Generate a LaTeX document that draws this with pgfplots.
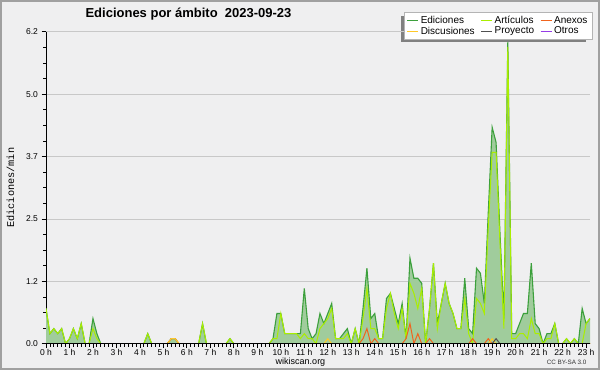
\documentclass[border=0pt]{standalone}
\usepackage{fontspec}
\setmainfont{Liberation Sans}
\newfontfamily\monofont{Liberation Mono}
\usepackage{pgfplots}
\pgfplotsset{compat=1.18}
\usepackage{pgfplotstable}

\definecolor{bg}{RGB}{239,239,240}
\definecolor{frame}{RGB}{160,160,160}
\definecolor{efill}{RGB}{160,204,156}
\definecolor{eline}{RGB}{60,160,60}
\definecolor{aline}{RGB}{170,238,0}
\definecolor{xline}{RGB}{240,100,30}
\definecolor{dline}{RGB}{255,200,40}
\definecolor{pline}{RGB}{80,80,80}
\definecolor{oline}{RGB}{150,60,230}
\definecolor{gridc}{RGB}{200,200,200}
\definecolor{shadowc}{RGB}{128,128,128}
\definecolor{legborder}{RGB}{180,180,180}

% min = minutes after midnight; values = edits per minute
\pgfplotstableread{
min E A X D P O
0 0.7 0.7 0 0 0 0
10 0.2 0.2 0 0 0 0
20 0.3 0.3 0 0 0 0
30 0.2 0.2 0 0 0 0
40 0.3 0.3 0 0 0 0
50 0 0 0 0 0 0
60 0.1 0.1 0 0 0 0
70 0.3 0.3 0 0 0 0
80 0.1 0.1 0 0 0 0
90 0.4 0.4 0 0 0 0
100 0 0 0 0 0 0
110 0 0 0 0 0 0
120 0.5 0.3 0 0 0 0
130 0.2 0.1 0 0 0 0
140 0 0 0 0 0 0
150 0 0 0 0 0 0
160 0 0 0 0 0 0
170 0 0 0 0 0 0
180 0 0 0 0 0 0
190 0 0 0 0 0 0
200 0 0 0 0 0 0
210 0 0 0 0 0 0
220 0 0 0 0 0 0
230 0 0 0 0 0 0
240 0 0 0 0 0 0
250 0 0 0 0 0 0
260 0.2 0.2 0 0 0 0
270 0 0 0 0 0 0
280 0 0 0 0 0 0
290 0 0 0 0 0 0
300 0 0 0 0 0 0
310 0 0 0 0 0 0
320 0.1 0 0.1 0.1 0 0
330 0.1 0 0.1 0.1 0 0
340 0 0 0 0 0 0
350 0 0 0 0 0 0
360 0 0 0 0 0 0
370 0 0 0 0 0 0
380 0 0 0 0 0 0
390 0 0 0 0 0 0
400 0.4 0.4 0 0 0 0
410 0 0 0 0 0 0
420 0 0 0 0 0 0
430 0 0 0 0 0 0
440 0 0 0 0 0 0
450 0 0 0 0 0 0
460 0 0 0 0 0 0
470 0.1 0.1 0 0 0 0
480 0 0 0 0 0 0
490 0 0 0 0 0 0
500 0 0 0 0 0 0
510 0 0 0 0 0 0
520 0 0 0 0 0 0
530 0 0 0 0 0 0
540 0 0 0 0 0 0
550 0 0 0 0 0 0
560 0 0 0 0 0 0
570 0 0 0 0 0 0
580 0.1 0.1 0 0 0 0
590 0.6 0.1 0 0 0 0
600 0.6 0.6 0 0 0 0
610 0.2 0.2 0 0 0 0
620 0.2 0.2 0 0 0 0
630 0.2 0.2 0 0 0 0
640 0.2 0.2 0 0 0 0
650 0.2 0.1 0 0 0 0
660 1.1 0.2 0 0 0 0
670 0.3 0.1 0 0 0 0
680 0.1 0.1 0 0 0 0
690 0.2 0 0 0 0 0
700 0.6 0.3 0 0 0 0
710 0.4 0.4 0 0 0 0
720 0.6 0.5 0 0.1 0 0
730 0.8 0.7 0 0 0 0
740 0.1 0.1 0 0 0 0
750 0.1 0.1 0 0 0 0
760 0.2 0.1 0 0 0 0
770 0.3 0.2 0 0 0 0
780 0 0 0 0 0 0
790 0.3 0.3 0 0 0 0
800 0 0 0 0 0 0
810 0.7 0.5 0.1 0 0 0
820 1.5 1.1 0.3 0 0 0
830 0.5 0.3 0 0 0 0
840 0.6 0.3 0.1 0 0 0
850 0.1 0.1 0 0 0 0
860 0.1 0.1 0 0 0 0
870 0.9 0.7 0 0 0 0
880 1.0 1.0 0 0 0 0
890 0.7 0.6 0 0 0 0
900 0.4 0.3 0 0 0 0
910 0.8 0.7 0 0 0 0
920 0.1 0.1 0.1 0 0 0
930 1.7 1.2 0.4 0 0 0
940 1.3 1.0 0 0 0 0
950 1.3 0.7 0.2 0 0 0
960 1.2 1.1 0 0 0 0
970 0 0 0 0 0 0
980 0.7 0.7 0.1 0 0 0
990 1.6 1.6 0 0 0 0
1000 0.4 0.3 0 0 0 0
1010 0.8 0.8 0 0 0 0
1020 1.2 1.2 0 0 0 0
1030 0.8 0.8 0 0 0 0
1040 0.6 0.6 0 0 0 0
1050 0.3 0.3 0 0 0 0
1060 0.3 0.3 0 0 0 0
1070 1.3 0.9 0 0 0 0
1080 0.3 0.2 0 0 0 0
1090 0.2 0 0.1 0 0 0
1100 1.5 0.9 0 0 0 0
1110 1.4 0.8 0 0 0 0
1120 0.8 0.6 0 0 0 0
1130 2.6 2.3 0.1 0 0 0
1140 4.3 3.8 0 0.1 0 0
1150 4.0 3.8 0 0 0.1 0
1160 2.2 2.0 0 0 0 0
1170 0.5 0.3 0 0 0 0
1180 6.0 5.9 0 0 0 0
1190 0.2 0.1 0 0 0 0
1200 0.2 0.1 0 0 0 0
1210 0.4 0.2 0 0 0 0
1220 0.6 0.2 0 0 0 0
1230 0.6 0.1 0 0 0 0
1240 1.6 0.5 0 0 0 0
1250 0.4 0.2 0 0 0 0
1260 0.3 0.2 0 0 0 0
1270 0 0 0 0 0 0
1280 0.2 0.1 0 0 0 0
1290 0.2 0.1 0 0 0 0
1300 0.4 0.4 0 0 0 0
1310 0 0 0 0 0 0
1320 0 0 0 0 0 0
1330 0.1 0.1 0 0 0 0
1340 0 0 0 0 0 0
1350 0.1 0.1 0 0 0 0
1360 0 0 0 0 0 0
1370 0.7 0 0 0 0 0
1380 0.4 0.4 0 0 0 0
1390 0.5 0.5 0 0 0 0
}\data

\begin{document}
\begin{tikzpicture}[x=1pt,y=1pt]
\useasboundingbox (0,0) rectangle (600,370);
\fill[bg] (0,0) rectangle (600,370);
\draw[frame,line width=2pt] (1,1) rectangle (599,369);
% legend shadow (the legend box is drawn over it)
\fill[shadowc] (400.7,327.6) rectangle (586,354.4);

\node[font=\bfseries\fontsize{13}{13}\selectfont] at (188.5,355.5) {Ediciones por ámbito\ \ 2023-09-23};
\node[font=\fontsize{9}{9}\selectfont,anchor=base] at (300.5,6) {wikiscan.org};
\node[font=\fontsize{6.3}{6.3}\selectfont,anchor=base east,text=black!80] at (590,6) {CC BY-SA 3.0};

\begin{axis}[
  scale only axis,
  width=544pt, height=312pt,
  at={(46pt,26.3pt)}, anchor=south west,
  xmin=0, xmax=1390, ymin=0, ymax=6.2,
  axis x line*=bottom, axis y line*=left,
  axis line style={-,black,line width=1pt},
  clip mode=individual,
  xtick={0,60,...,1380},
  xticklabels={0 h,1 h,2 h,3 h,4 h,5 h,6 h,7 h,8 h,9 h,10 h,11 h,12 h,13 h,14 h,15 h,16 h,17 h,18 h,19 h,20 h,21 h,22 h,23 h},
  minor x tick num=5,
  ytick={0,1.24,2.48,3.72,4.96,6.2},
  yticklabels={0.0,1.2,2.5,3.7,5.0,6.2},
  minor y tick num=3,
  tick align=outside,
  major tick length=4.5pt, minor tick length=3pt,
  tick style={black,line width=0.8pt},
  tick label style={font=\fontsize{8.5}{8.5}\selectfont},
  xticklabel style={yshift=2.5pt},
  ymajorgrids,
  grid style={gridc,line width=0.8pt},
  ylabel={Ediciones/min},
  ylabel style={at={(axis description cs:-0.0653,0.5)},anchor=center,font=\monofont\fontsize{10.25}{10.25}\selectfont},
  legend columns=3,
  legend image code/.code={\draw[#1,line width=1pt] (0pt,0pt) -- (11pt,0pt);},
  legend style={
    at={(axis description cs:0.658,1.062)}, anchor=north west,
    draw=legborder, fill=white, line width=0.6pt,
    font=\fontsize{10}{10}\selectfont,
    inner xsep=2.5pt, inner ysep=1.3pt,
    row sep=-2pt,
    /tikz/every even column/.append style={column sep=4pt},
  },
  legend cell align=left,
]
\addplot[draw=none, fill=efill, forget plot] table[x=min,y=E]{\data} \closedcycle;
\addplot[eline, line width=1.1pt] table[x=min,y=E]{\data};
\addlegendentry{Ediciones}
\addplot[aline, line width=1pt] table[x=min,y=A]{\data};
\addlegendentry{Artículos}
\addplot[xline, line width=1pt] table[x=min,y=X]{\data};
\addlegendentry{Anexos}
\addplot[dline, line width=1pt] table[x=min,y=D]{\data};
\addlegendentry{Discusiones}
\addplot[pline, line width=1pt] table[x=min,y=P]{\data};
\addlegendentry{Proyecto}
\addplot[oline, line width=1pt] table[x=min,y=O]{\data};
\addlegendentry{Otros}
% redraw the baseline over the zero-valued series
\addplot[black, line width=1pt, clip=false, forget plot] coordinates {(0,0) (1390,0)};
\end{axis}
\end{tikzpicture}
\end{document}
